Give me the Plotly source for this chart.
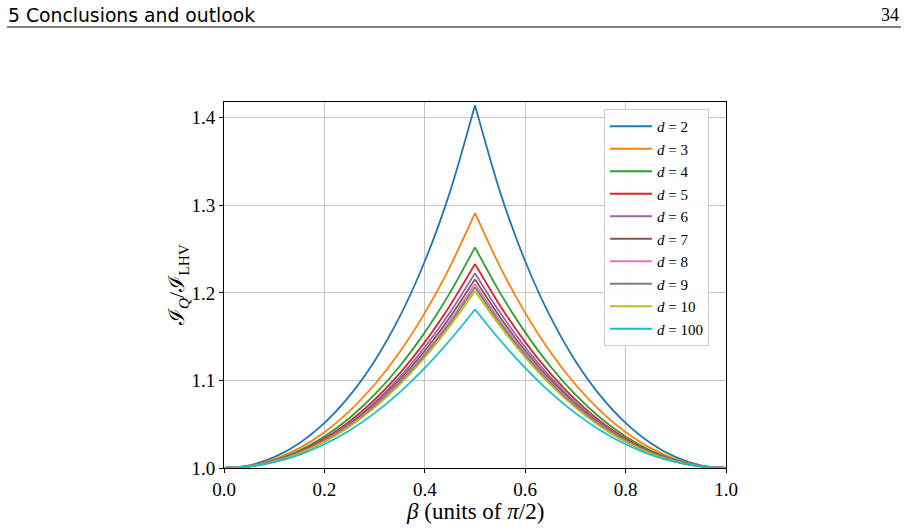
import plotly.graph_objects as go

# ---------------- data ----------------
beta = [0.0, 0.05, 0.10, 0.15, 0.20, 0.25, 0.30, 0.35, 0.40, 0.45, 0.50,
        0.55, 0.60, 0.65, 0.70, 0.75, 0.80, 0.85, 0.90, 0.95, 1.0]

d_labels = ["2", "3", "4", "5", "6", "7", "8", "9", "10", "100"]

ratio_d2 = [1.0, 1.0031, 1.0125, 1.0284, 1.0515, 1.0824, 1.1223, 1.1728, 1.2361, 1.3151, 1.4142,
            1.3151, 1.2361, 1.1728, 1.1223, 1.0824, 1.0515, 1.0284, 1.0125, 1.0031, 1.0]
ratio_d3 = [1.0, 1.0025, 1.0100, 1.0227, 1.0409, 1.0650, 1.0954, 1.1326, 1.1772, 1.2298, 1.2910,
            1.2298, 1.1772, 1.1326, 1.0954, 1.0650, 1.0409, 1.0227, 1.0100, 1.0025, 1.0]
ratio_d4 = [1.0, 1.0022, 1.0088, 1.0200, 1.0360, 1.0571, 1.0837, 1.1162, 1.1549, 1.2000, 1.2520,
            1.2000, 1.1549, 1.1162, 1.0837, 1.0571, 1.0360, 1.0200, 1.0088, 1.0022, 1.0]
ratio_d5 = [1.0, 1.0020, 1.0082, 1.0186, 1.0336, 1.0532, 1.0780, 1.1081, 1.1438, 1.1854, 1.2330,
            1.1854, 1.1438, 1.1081, 1.0780, 1.0532, 1.0336, 1.0186, 1.0082, 1.0020, 1.0]
ratio_d6 = [1.0, 1.0020, 1.0079, 1.0179, 1.0323, 1.0512, 1.0750, 1.1038, 1.1380, 1.1775, 1.2225,
            1.1775, 1.1380, 1.1038, 1.0750, 1.0512, 1.0323, 1.0179, 1.0079, 1.0020, 1.0]
ratio_d7 = [1.0, 1.0019, 1.0077, 1.0174, 1.0314, 1.0498, 1.0729, 1.1008, 1.1339, 1.1721, 1.2155,
            1.1721, 1.1339, 1.1008, 1.0729, 1.0498, 1.0314, 1.0174, 1.0077, 1.0019, 1.0]
ratio_d8 = [1.0, 1.0019, 1.0075, 1.0171, 1.0307, 1.0487, 1.0713, 1.0985, 1.1308, 1.1680, 1.2100,
            1.1680, 1.1308, 1.0985, 1.0713, 1.0487, 1.0307, 1.0171, 1.0075, 1.0019, 1.0]
ratio_d9 = [1.0, 1.0018, 1.0074, 1.0169, 1.0304, 1.0481, 1.0703, 1.0972, 1.1289, 1.1654, 1.2065,
            1.1654, 1.1289, 1.0972, 1.0703, 1.0481, 1.0304, 1.0169, 1.0074, 1.0018, 1.0]
ratio_d10 = [1.0, 1.0018, 1.0073, 1.0166, 1.0298, 1.0472, 1.0690, 1.0953, 1.1264, 1.1620, 1.2020,
             1.1620, 1.1264, 1.0953, 1.0690, 1.0472, 1.0298, 1.0166, 1.0073, 1.0018, 1.0]
ratio_d100 = [1.0, 1.0017, 1.0067, 1.0151, 1.0271, 1.0429, 1.0627, 1.0864, 1.1143, 1.1459, 1.1810,
              1.1459, 1.1143, 1.0864, 1.0627, 1.0429, 1.0271, 1.0151, 1.0067, 1.0017, 1.0]

series = [ratio_d2, ratio_d3, ratio_d4, ratio_d5, ratio_d6,
          ratio_d7, ratio_d8, ratio_d9, ratio_d10, ratio_d100]

x_ticks = [0.0, 0.2, 0.4, 0.6, 0.8, 1.0]
y_ticks = [1.0, 1.1, 1.2, 1.3, 1.4]

colors = ["#1f77b4", "#ff7f0e", "#2ca02c", "#d62728", "#9467bd",
          "#8c564b", "#e377c2", "#7f7f7f", "#bcbd22", "#17becf"]

# ---------------- figure ----------------
W, H = 908, 531
L, R, T, B = 224, 726, 102, 468  # plot-area pixel box

def px_x(p):
    return (p - L) / (R - L)

def px_y(p):
    return (B - p) / (B - T)

SERIF = "Liberation Serif, DejaVu Serif, serif"

fig = go.Figure()
mid = beta.index(0.50)
for lab, ys, col in zip(d_labels, series, colors):
    # left half (shows in legend) and right half, so the cusp stays sharp
    fig.add_trace(go.Scatter(
        x=beta[:mid + 1], y=ys[:mid + 1], mode="lines",
        line=dict(color=col, width=1.8, shape="spline", smoothing=0.8),
        name="<i>d</i> = " + lab, legendgroup=lab, showlegend=True))
    fig.add_trace(go.Scatter(
        x=beta[mid:], y=ys[mid:], mode="lines",
        line=dict(color=col, width=1.8, shape="spline", smoothing=0.8),
        name="<i>d</i> = " + lab, legendgroup=lab, showlegend=False))

axis_common = dict(
    showline=True, linecolor="black", linewidth=1, mirror=True,
    ticks="outside", ticklen=4, tickwidth=1, tickcolor="black",
    showgrid=True, gridcolor="#c6c6c6", gridwidth=1,
    zeroline=False,
    tickfont=dict(family=SERIF, size=19, color="black"),
)

fig.update_xaxes(range=[0.0, 1.0], tickvals=x_ticks,
                 ticktext=[f"{v:.1f}" for v in x_ticks], **axis_common)
fig.update_yaxes(range=[1.0, 1.418], tickvals=y_ticks,
                 ticktext=[f"{v:.1f}" for v in y_ticks], **axis_common)

annotations = [
    # page header
    dict(text="5 Conclusions and outlook", xref="paper", yref="paper",
         x=px_x(6), y=px_y(15), xanchor="left", yanchor="middle",
         showarrow=False, font=dict(family="DejaVu Sans, sans-serif", size=18.8, color="black")),
    dict(text="34", xref="paper", yref="paper",
         x=px_x(901), y=px_y(15), xanchor="right", yanchor="middle",
         showarrow=False, font=dict(family=SERIF, size=18, color="black")),
    # axis titles
    dict(text="<i>β</i> (units of <i>π</i>/2)", xref="paper", yref="paper",
         x=px_x(475), y=px_y(512), xanchor="center", yanchor="middle",
         showarrow=False, font=dict(family=SERIF, size=23, color="black")),
    dict(text="ℐ<sub><i>Q</i></sub>/ℐ<sub>LHV</sub>", xref="paper", yref="paper",
         x=px_x(178), y=px_y(285), xanchor="center", yanchor="middle",
         textangle=-90, showarrow=False,
         font=dict(family=SERIF, size=22, color="black")),
]

shapes = [
    dict(type="line", xref="paper", yref="paper",
         x0=px_x(7), x1=px_x(901), y0=px_y(27), y1=px_y(27),
         line=dict(color="black", width=1)),
]

fig.update_layout(
    width=W, height=H,
    margin=dict(l=L, r=W - R, t=T, b=H - B, pad=0),
    paper_bgcolor="white", plot_bgcolor="white",
    showlegend=True,
    legend=dict(x=px_x(604), y=px_y(109), xanchor="left", yanchor="top",
                bgcolor="rgba(255,255,255,0.85)", bordercolor="#cccccc", borderwidth=1,
                font=dict(family=SERIF, size=15, color="black"),
                tracegroupgap=0, itemwidth=42),
    annotations=annotations,
    shapes=shapes,
)

fig.write_html("out.html")
